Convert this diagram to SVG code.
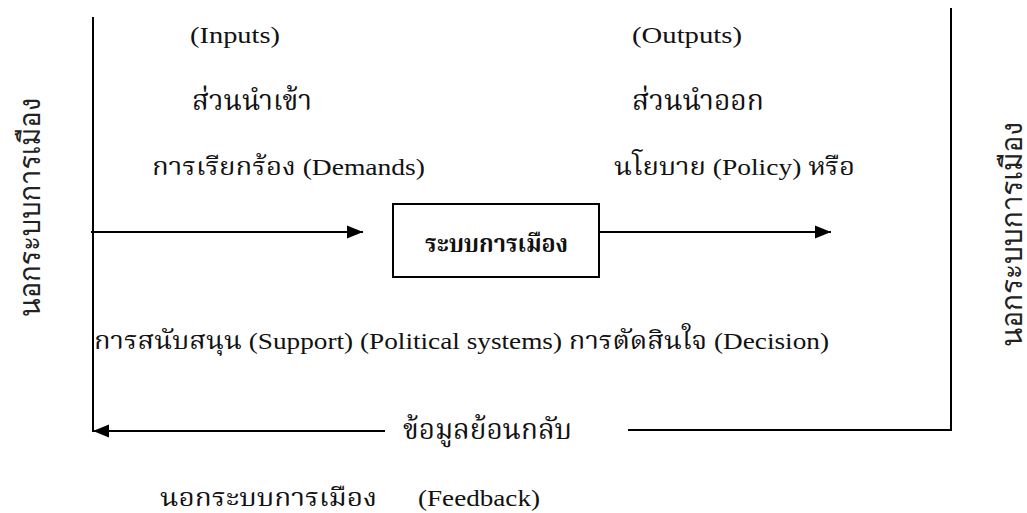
<svg xmlns="http://www.w3.org/2000/svg" width="1027" height="513" viewBox="0 0 1027 513">
<defs>
<marker id="ah" markerUnits="userSpaceOnUse" markerWidth="17" markerHeight="14" refX="16" refY="7" orient="auto">
<path d="M0,0.5 L16,7 L0,13.5 z" fill="#000"/>
</marker>
<style>
.ln{stroke:#000;stroke-width:2;fill:none}
.s{font-family:'Liberation Serif','Norasi','Kinnari','Noto Serif Thai',serif;font-size:24px;fill:#111}
.th{font-family:'Liberation Serif','Norasi','Kinnari','Noto Serif Thai',serif;font-size:28px;fill:#111}
.b{font-family:'Liberation Serif','Norasi','Kinnari','Noto Serif Thai',serif;font-size:24px;font-weight:bold;fill:#111}
.v{font-family:'Liberation Sans','Tahoma','Loma','Noto Sans Thai',sans-serif;font-size:30px;fill:#222}
</style>
</defs>
<rect width="1027" height="513" fill="#fff"/>
<g id="connectors">
<line class="ln" x1="93" y1="17" x2="93" y2="432"/>
<line class="ln" x1="951" y1="8" x2="951" y2="431"/>
<line class="ln" x1="91" y1="232" x2="363" y2="232" marker-end="url(#ah)"/>
<line class="ln" x1="599" y1="232" x2="831" y2="232" marker-end="url(#ah)"/>
<line class="ln" x1="628" y1="430" x2="952" y2="430"/>
<line class="ln" x1="385" y1="431" x2="93" y2="431" marker-end="url(#ah)"/>
</g>
<g id="node-system">
<rect x="393" y="204" width="206" height="73" fill="#fff" stroke="#000" stroke-width="2"/>
<text class="b" x="425" y="252" textLength="143" lengthAdjust="spacingAndGlyphs">ระบบการเมือง</text>
</g>
<g id="inputs">
<text class="s" x="190" y="43" textLength="90" lengthAdjust="spacingAndGlyphs">(Inputs)</text>
<text class="th" x="192" y="110" textLength="120" lengthAdjust="spacingAndGlyphs">ส่วนนำเข้า</text>
<text class="s" x="152" y="175" textLength="273" lengthAdjust="spacingAndGlyphs">การเรียกร้อง (Demands)</text>
</g>
<g id="outputs">
<text class="s" x="632" y="43" textLength="110" lengthAdjust="spacingAndGlyphs">(Outputs)</text>
<text class="th" x="632" y="110" textLength="132" lengthAdjust="spacingAndGlyphs">ส่วนนำออก</text>
<text class="s" x="614" y="175" textLength="241" lengthAdjust="spacingAndGlyphs">นโยบาย (Policy) หรือ</text>
</g>
<g id="support-decision">
<text class="s" x="94" y="349" textLength="735" lengthAdjust="spacingAndGlyphs">การสนับสนุน (Support) (Political systems) การตัดสินใจ (Decision)</text>
</g>
<g id="feedback">
<text class="th" x="403" y="439" textLength="169" lengthAdjust="spacingAndGlyphs">ข้อมูลย้อนกลับ</text>
<text class="s" x="160" y="506" textLength="217" lengthAdjust="spacingAndGlyphs">นอกระบบการเมือง</text>
<text class="s" x="418" y="506" textLength="122" lengthAdjust="spacingAndGlyphs">(Feedback)</text>
</g>
<g id="env-left">
<text class="v" transform="translate(40,207.5) rotate(-90)" x="0" y="0" text-anchor="middle" textLength="219" lengthAdjust="spacingAndGlyphs">นอกระบบการเมือง</text>
</g>
<g id="env-right">
<text class="v" transform="translate(1022,234.5) rotate(-90)" x="0" y="0" text-anchor="middle" textLength="225" lengthAdjust="spacingAndGlyphs">นอกระบบการเมือง</text>
</g>
</svg>
